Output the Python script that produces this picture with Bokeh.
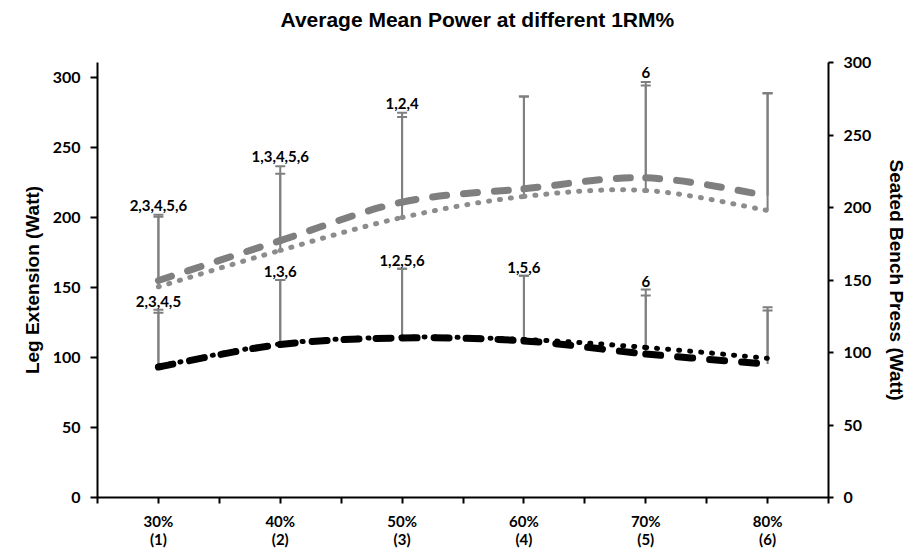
from bokeh.plotting import figure
from bokeh.models import Range1d, LinearAxis, FixedTicker, Whisker, TeeHead, ColumnDataSource, Title
from bokeh.core.properties import value
from bokeh.embed import file_html
from bokeh.resources import INLINE

# ---------------- data ----------------
categories = ["30%", "40%", "50%", "60%", "70%", "80%"]
cat_index = ["(1)", "(2)", "(3)", "(4)", "(5)", "(6)"]

leg_dashed = [155, 183.5, 211, 220.5, 228.3, 215.7]
leg_dotted = [150.5, 176.5, 200, 215, 219.3, 205]
leg_dashed_upper = [200.5, 231.2, 271.7, 286.4, 294.3, 288.5]
leg_dotted_upper = [202, 236.6, 274.8, 286.4, 296.7, 289]

bench_dashed = [90, 105.5, 110, 108, 99, 92]
bench_dotted = [90.5, 106, 110.5, 109, 103.5, 96]
bench_dashed_upper = [127.4, 150, 157.7, 153, 139.3, 129]
bench_dotted_upper = [129.4, 150, 157.7, 153, 143.4, 131.2]

leg_sig = ["2,3,4,5,6", "1,3,4,5,6", "1,2,4", "", "6", ""]
bench_sig = ["2,3,4,5", "1,3,6", "1,2,5,6", "1,5,6", "6", ""]

left_ticks = [0, 50, 100, 150, 200, 250, 300]
right_ticks = [0, 50, 100, 150, 200, 250, 300]

title_text = "Average Mean Power at different 1RM%"

# ---------------- helpers ----------------
xs = [i + 0.5 for i in range(len(categories))]


def smooth_source(x, y, t=1.0 / 6.0):
    n = len(x)
    d = dict(x0=[], y0=[], x1=[], y1=[], cx0=[], cy0=[], cx1=[], cy1=[])
    for i in range(n - 1):
        a = max(i - 1, 0)
        b = min(i + 2, n - 1)
        d["x0"].append(x[i]); d["y0"].append(y[i])
        d["x1"].append(x[i + 1]); d["y1"].append(y[i + 1])
        d["cx0"].append(x[i] + (x[i + 1] - x[a]) * t)
        d["cy0"].append(y[i] + (y[i + 1] - y[a]) * t)
        d["cx1"].append(x[i + 1] - (x[b] - x[i]) * t)
        d["cy1"].append(y[i + 1] - (y[b] - y[i]) * t)
    return ColumnDataSource(d)


FONT_NUM = "Lato"
FONT_TXT = "Liberation Sans"
GRAY = "#7f7f7f"
GRAY_DOT = "#8c8c8c"

p = figure(width=910, height=550, title=None,
           x_range=Range1d(0, 6), y_range=Range1d(0, 310.7),
           output_backend="svg", toolbar_location=None,
           min_border_left=97, min_border_right=77,
           min_border_top=62, min_border_bottom=53)
p.extra_y_ranges = {"right": Range1d(0, 300)}
p.outline_line_color = None
p.xgrid.visible = False
p.ygrid.visible = False
p.background_fill_color = "white"
p.border_fill_color = "white"

# spacer next to the frame, then the title above it
spacer = Title(text=" ", text_font_size="27px", standoff=0)
p.add_layout(spacer, "above")
main_title = Title(text=title_text, align="left", offset=183, standoff=0,
                   text_font=FONT_TXT, text_font_style="bold",
                   text_font_size="21px", text_color="black")
p.add_layout(main_title, "above")


def style_axis(ax, tick_out):
    ax.axis_line_width = 2
    ax.axis_line_color = "black"
    ax.major_tick_line_width = 2
    ax.major_tick_line_color = "black"
    ax.major_tick_in = 0
    ax.major_tick_out = tick_out
    ax.minor_tick_line_color = None
    ax.major_label_text_font = FONT_NUM
    ax.major_label_text_font_style = "bold"
    ax.major_label_text_font_size = "16px"
    ax.major_label_text_color = "black"
    ax.axis_label_text_font = FONT_TXT
    ax.axis_label_text_font_style = "bold"
    ax.axis_label_text_font_size = "19px"
    ax.axis_label_text_color = "black"


# x axis
xa = p.xaxis[0]
style_axis(xa, 6)
xt = [i / 2 for i in range(2 * len(categories) + 1)]
xa.ticker = FixedTicker(ticks=xt)
overrides = {}
for i, t in enumerate(xt):
    if i % 2 == 1:
        overrides[t] = categories[i // 2] + "\n" + cat_index[i // 2]
    else:
        overrides[t] = ""
xa.major_label_overrides = overrides
xa.major_label_text_font_size = "15px"
xa.major_label_text_line_height = 1.0
xa.major_label_standoff = 8

# left axis
ya = p.yaxis[0]
style_axis(ya, 7)
ya.ticker = FixedTicker(ticks=left_ticks)
ya.major_label_standoff = 10
ya.axis_label = "Leg Extension (Watt)"
ya.axis_label_standoff = 7

# right axis
ra = LinearAxis(y_range_name="right", ticker=FixedTicker(ticks=right_ticks),
                axis_label="Seated Bench Press (Watt)")
style_axis(ra, 5)
ra.major_label_standoff = 10
ra.axis_label_standoff = 12
p.add_layout(ra, "right")

# error bars
for means, uppers, rng in [(leg_dashed, leg_dashed_upper, "default"),
                           (leg_dotted, leg_dotted_upper, "default"),
                           (bench_dashed, bench_dashed_upper, "right"),
                           (bench_dotted, bench_dotted_upper, "right")]:
    src = ColumnDataSource(dict(x=xs, lower=means, upper=uppers))
    w = Whisker(source=src, base="x", lower="lower", upper="upper", dimension="height",
                line_color=GRAY, line_width=2, lower_head=None,
                upper_head=TeeHead(size=10, line_color=GRAY, line_width=2),
                y_range_name=rng)
    p.add_layout(w)

# lines
p.bezier(x0="x0", y0="y0", x1="x1", y1="y1", cx0="cx0", cy0="cy0", cx1="cx1", cy1="cy1",
         source=smooth_source(xs, leg_dotted), line_color=GRAY_DOT, line_width=5,
         line_dash="1 10", line_cap="round")
p.bezier(x0="x0", y0="y0", x1="x1", y1="y1", cx0="cx0", cy0="cy0", cx1="cx1", cy1="cy1",
         source=smooth_source(xs, leg_dashed), line_color=GRAY, line_width=7,
         line_dash="14 17", line_cap="round")
p.bezier(x0="x0", y0="y0", x1="x1", y1="y1", cx0="cx0", cy0="cy0", cx1="cx1", cy1="cy1",
         source=smooth_source(xs, bench_dashed), line_color="black", line_width=7,
         line_dash="15 17", line_cap="round", y_range_name="right")
p.bezier(x0="x0", y0="y0", x1="x1", y1="y1", cx0="cx0", cy0="cy0", cx1="cx1", cy1="cy1",
         source=smooth_source(xs, bench_dotted), line_color="black", line_width=5,
         line_dash="1 10", line_cap="round", y_range_name="right")

# significance labels
leg_lab_y = [max(a, b) for a, b in zip(leg_dashed_upper, leg_dotted_upper)]
bench_lab_y = [max(a, b) for a, b in zip(bench_dashed_upper, bench_dotted_upper)]
p.text(x=xs, y=leg_lab_y, text=leg_sig, text_align="center", text_baseline="bottom",
       y_offset=-4, text_font=value(FONT_NUM), text_font_style="bold",
       text_font_size="15px", text_color="black")
p.text(x=xs, y=bench_lab_y, text=bench_sig, text_align="center", text_baseline="bottom",
       y_offset=-3, text_font=value(FONT_NUM), text_font_style="bold",
       text_font_size="15px", text_color="black", y_range_name="right")

open("out.html", "w").write(file_html(p, INLINE))
